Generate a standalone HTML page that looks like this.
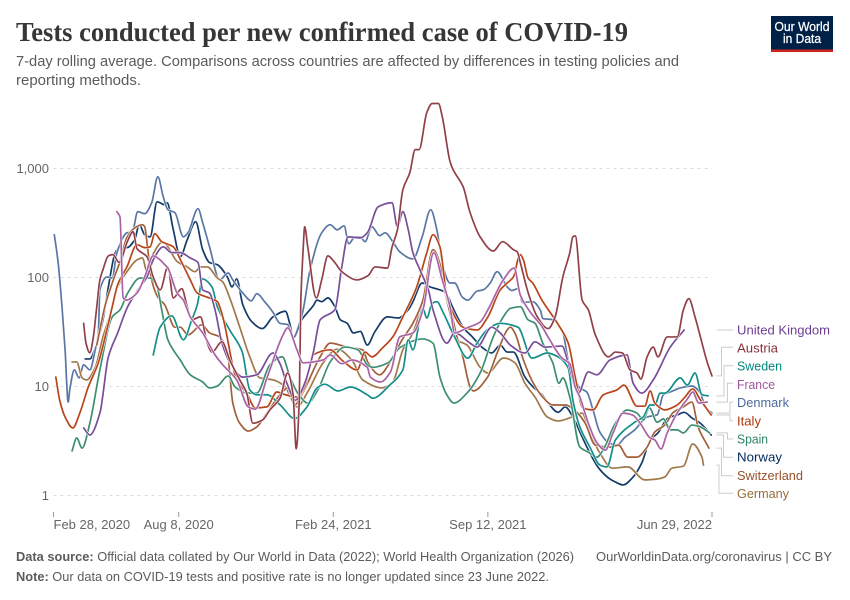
<!DOCTYPE html>
<html lang="en">
<head>
<meta charset="utf-8">
<title>Tests conducted per new confirmed case of COVID-19</title>
<style>
html,body{margin:0;padding:0;background:#fff;}
svg{display:block;font-family:"Liberation Sans",sans-serif;}
</style>
</head>
<body>
<svg id="chart" xmlns="http://www.w3.org/2000/svg" width="850" height="600" viewBox="0 0 850 600">
<rect width="850" height="600" fill="#fff"/>
<text x="16" y="41" font-family="'Liberation Serif',serif" font-weight="700" font-size="27" fill="#363636" textLength="612" lengthAdjust="spacingAndGlyphs">Tests conducted per new confirmed case of COVID-19</text>
<text x="16" y="66" font-size="14.5" fill="#5b5b5b" textLength="663" lengthAdjust="spacingAndGlyphs">7-day rolling average. Comparisons across countries are affected by differences in testing policies and</text>
<text x="16" y="85" font-size="14.5" fill="#5b5b5b" textLength="125" lengthAdjust="spacingAndGlyphs">reporting methods.</text>
<g>
<rect x="771" y="16" width="62" height="36" fill="#002147"/>
<rect x="771" y="49.5" width="62" height="2.5" fill="#ce261e"/>
<text x="802" y="31" text-anchor="middle" font-size="12.5" font-weight="400" fill="#fff" stroke="#fff" stroke-width="0.25" textLength="55" lengthAdjust="spacingAndGlyphs">Our World</text>
<text x="802" y="43" text-anchor="middle" font-size="12.5" font-weight="400" fill="#fff" stroke="#fff" stroke-width="0.25" textLength="38" lengthAdjust="spacingAndGlyphs">in Data</text>
</g>
<g id="grid"></g>
<g id="y-axis"></g>
<g id="x-axis"></g>
<g id="lines"></g>
<g id="connectors"></g>
<g font-size="13">
<text x="737" y="334.5" fill="#6d3e91" textLength="93" lengthAdjust="spacingAndGlyphs">United Kingdom</text>
<text x="737" y="352.5" fill="#883039" textLength="41" lengthAdjust="spacingAndGlyphs">Austria</text>
<text x="737" y="370.5" fill="#00847e" textLength="45" lengthAdjust="spacingAndGlyphs">Sweden</text>
<text x="737" y="389" fill="#a2559c" textLength="38" lengthAdjust="spacingAndGlyphs">France</text>
<text x="737" y="407" fill="#4c6a9c" textLength="52" lengthAdjust="spacingAndGlyphs">Denmark</text>
<text x="737" y="425.5" fill="#b13507" textLength="24" lengthAdjust="spacingAndGlyphs">Italy</text>
<text x="737" y="443.5" fill="#2c8465" textLength="31" lengthAdjust="spacingAndGlyphs">Spain</text>
<text x="737" y="461.5" fill="#00295b" textLength="45" lengthAdjust="spacingAndGlyphs">Norway</text>
<text x="737" y="480" fill="#9a5129" textLength="66" lengthAdjust="spacingAndGlyphs">Switzerland</text>
<text x="737" y="498" fill="#996d39" textLength="52" lengthAdjust="spacingAndGlyphs">Germany</text>
</g>
<text x="16" y="561" font-size="13" fill="#5b5b5b" textLength="558" lengthAdjust="spacingAndGlyphs"><tspan font-weight="700">Data source:</tspan> Official data collated by Our World in Data (2022); World Health Organization (2026)</text>
<text x="596" y="561" font-size="13" fill="#5b5b5b" textLength="236" lengthAdjust="spacingAndGlyphs">OurWorldinData.org/coronavirus | CC BY</text>
<text x="16" y="581" font-size="13" fill="#5b5b5b" textLength="533" lengthAdjust="spacingAndGlyphs"><tspan font-weight="700">Note:</tspan> Our data on COVID-19 tests and positive rate is no longer updated since 23 June 2022.</text>
</svg>
<script>
// Days are counted from Feb 28, 2020. Values are tests per new confirmed case.
const xTickDays = [0, 162, 362, 562, 852];
const xTickLabels = ["Feb 28, 2020", "Aug 8, 2020", "Feb 24, 2021", "Sep 12, 2021", "Jun 29, 2022"];
const yTickValues = [1, 10, 100, 1000];
const yTickLabels = ["1", "10", "100", "1,000"];

const denmarkDays = [1,2,6,11,15,19,21,27,33,39,47,54,58,60,69,76,82,95,102,109,118,127,135,142,148,157,168,174,187,193,202,215,226,232,245,256,263,274,284,293,303,310,322,332,347,358,367,376,382,390,397,403,412,422,429,439,448,465,477,488,496,504,513,519,529,536,548,556,565,574,587,593,601,607,620,630,633,646,659,666,675,681,690,698,707,720,729,739,752,768,781,789,798,811,826,837,843,852];
const denmarkValues = [247,222,137,54,21.7,7.2,9.3,14.2,12,15.8,14.2,21.7,31,77,101,99,169,257,263,402,385,485,840,550,419,394,236,257,428,318,190,95,110,95,72,61,71,59,48,38,37,28,47,118,257,305,274,298,204,236,236,213,292,242,257,213,172,148,236,419,274,125,89,89,66,62,75,77,89,113,82,76,79,59,60,50,42,41,31,17.5,11.5,9.7,8.9,6.1,3.8,3,2.9,3.4,4,5.25,5.5,8.4,8.9,9.7,10.1,8.7,6.5,5.7];

const norwayDays = [41,47,56,64,71,80,86,95,105,111,118,125,134,144,147,155,164,173,184,193,202,212,225,231,237,245,257,270,284,300,306,310,319,336,341,347,355,364,371,380,388,397,406,416,432,446,459,465,477,487,500,508,516,530,542,555,567,578,587,595,610,620,632,640,653,662,672,684,694,705,718,727,737,750,761,772,782,795,807,816,826,837,851];
const norwayValues = [17.9,17.9,25,41,82,169,188,188,222,305,247,236,495,465,485,274,155,222,325,180,137,131,101,82,97,56,39,34,43.5,49,37,28,39,55,62,60,65,54,41,38,31,32,24,32,43.5,42.5,50.5,60,89,82,77,72,54,35,28.5,22.7,20.3,24,20.7,20.7,12.2,10,8.4,7.05,5.8,6.5,5.25,3.45,2.45,1.8,1.45,1.33,1.25,1.48,1.98,3.23,3.75,5.13,5.48,5.8,5.15,4.6,3.59];

const austriaDays = [39,42,47,51,56,60,64,71,77,85,95,103,108,121,129,138,148,155,166,173,179,190,199,205,218,228,241,250,258,270,280,293,303,310,314,318,320,323,325,329,340,347,355,364,373,393,407,416,432,438,445,452,461,468,473,483,490,498,503,513,517,530,539,552,569,581,595,600,604,614,626,640,649,659,668,672,675,684,692,701,718,727,736,746,755,760,768,776,782,794,807,815,822,830,837,846,852];
const austriaValues = [38,25,20.4,26.8,54,95,118,158,162,137,209,263,184,155,101,77,125,65,79,54,41,43.5,25,20.7,25.7,17.5,11.5,8.7,4.6,4.9,6.1,7.8,13.3,8.4,2.68,7.5,62,180,292,190,65,95,158,137,113,95,104,125,122,190,274,639,915,1490,1490,3260,3950,3950,2990,1160,976,680,394,236,175,213,180,172,137,73,43.5,34,43.5,101,169,236,241,62,50.5,29.8,18.7,20.7,20.3,14.2,13.3,11.7,18.7,23,18.7,28.5,28.5,50.5,64,43.5,28.5,16.5,12.5];

const ukDays = [39,47,60,71,83,96,112,121,129,142,153,164,177,187,193,202,209,218,228,245,263,284,293,302,313,325,336,345,364,373,381,397,406,420,438,445,452,459,465,474,485,491,509,519,539,548,567,578,591,610,623,636,658,665,679,692,703,720,742,750,761,776,798,816];
const ukValues = [4.17,3.59,5.7,18.7,31,54,82,101,145,191,169,169,151,137,77,72,50.5,25,16.8,12.2,12.8,20.3,16.2,10.7,7.5,10.7,20.3,40.9,50.5,125,236,231,257,445,485,292,402,274,169,118,77,50.5,25,31,25,23,35,31,24,20.3,25.7,23,23.5,17.5,8.7,13.6,12.8,17.5,19.5,10.7,8.7,11.5,23,33];

const swedenDays = [129,138,153,168,179,186,193,205,212,228,244,254,263,276,293,312,328,341,351,368,384,406,413,435,452,459,465,478,483,490,496,504,519,536,548,561,578,601,619,639,653,666,672,681,694,707,716,727,752,763,772,778,785,791,811,820,830,839,847];
const swedenValues = [19.5,35,44.5,26.8,41,56,97,82,54,33,21,9.3,8.4,8.4,6.8,5.1,6.5,9.7,10.5,9.1,9.9,8.4,7.8,10.3,14.2,26.8,21.7,52,42.5,58,60,48,28.5,18.2,25,33,38,35,18.2,20.3,18.7,14.8,7.5,4.26,2.78,1.9,1.83,3.23,4.7,5.25,6.77,6.77,8.7,8.7,12,10.3,13.3,8.4,8.2];

const franceDays = [82,86,90,94,108,118,129,138,144,148,160,168,177,193,209,219,237,252,261,276,297,303,315,323,349,358,373,386,406,410,423,436,448,465,478,492,503,513,519,535,552,562,582,596,604,617,632,642,658,668,675,681,692,703,714,724,737,749,759,772,778,786,794,807,821,827,835,846];
const franceValues = [402,360,66,62,72,101,158,145,131,122,72,62,43.5,31,19.5,15.8,11.5,6.5,6.2,11.9,29.8,34.5,21.7,16.5,17.5,19.5,16.2,17.5,15,12.2,11,13.6,28.5,31,50.5,169,95,54,31,34.5,39,50.5,95,122,69,48,35.5,26.8,18.2,16.2,9.9,8,4.6,3.05,2.61,3.75,5.7,5.48,4.6,3.37,3.23,2.67,3.75,5.7,7.85,8.9,7.05,7.2];

const italyDays = [3,8,15,25,34,45,58,69,76,83,95,108,118,125,131,140,155,166,177,186,199,212,219,237,250,261,276,289,300,315,325,336,358,373,393,403,412,426,439,452,464,470,483,491,500,509,513,530,548,562,578,587,595,602,604,608,614,620,632,652,666,675,685,698,711,729,738,755,765,772,778,791,807,817,827,837,851];
const italyValues = [12.2,7.5,5.25,4.17,5.7,9.9,16.5,33,54,85.8,125,200,188,191,252,213,191,137,95,72,66,60,43.5,11.5,8.7,6.36,6.5,8.9,8.4,8,9.9,19.5,21.7,17.5,14.2,20.7,18.7,22.7,28.5,43.5,65,82,169,247,191,66,54,35,33,43.5,77,89,101,155,162,145,99,89,62,38,25,12.2,6.36,6.1,8.36,9.3,10.3,6.6,6.6,9.1,7.05,6.1,6.77,8,9.5,7.52,5.48];

const spainDays = [24,30,37,47,60,76,86,96,112,125,134,140,148,164,177,193,202,212,226,235,250,263,280,296,306,316,329,342,358,377,394,406,413,433,448,478,491,500,509,518,535,552,569,582,591,604,614,623,633,646,654,659,668,681,692,703,711,727,742,755,763,771,781,789,798,807,815,826,837,849];
const spainValues = [2.56,3.37,2.72,4.6,14.2,43.5,50.5,72,99,99,82,50.5,26.8,17.5,12.8,11,9.7,10.1,12.5,9.9,8.7,8.7,15.8,18.7,12.2,8.7,7.05,9.3,16.8,23,21.7,15.8,15,16.5,22.7,27.3,25,12.2,8.36,7.05,8.7,13.3,28.5,43.5,52,54,40.9,38,25,16.5,10.7,12,8,2.78,2.5,2.25,2.61,4.6,6.09,5.7,4.93,6.36,4.7,5.05,4,4,3.75,4.43,4.26,3.75];

const switzerlandDays = [56,67,76,86,95,105,115,118,122,127,135,144,157,164,174,192,202,215,225,232,241,252,263,276,293,303,312,323,345,358,380,400,407,422,435,451,465,478,491,513,522,530,539,543,561,574,587,591,597,608,620,633,646,662,677,688,701,720,731,743,755,768,778,791,802,815,826,834,848];
const switzerlandValues = [24,56,89,140,232,285,305,292,180,95,66,56,35,35,29.8,36.8,31,28.5,20.3,7.05,4.6,3.9,4.26,5.7,8.36,9.7,6.77,8.9,18.7,25,23,21.7,16.5,12.8,16.5,26.8,38,62,180,54,28.5,18.2,9.9,9.1,12,20.3,33,35,31,17.5,11,8,6.77,6.77,5.8,4.6,2.9,2.78,2.9,2.25,2.25,2.78,3.83,4.43,5.8,6.5,7.2,4.26,2.72];

const germanyDays = [24,30,37,43,54,64,76,83,95,108,115,121,127,142,148,160,173,183,190,199,212,219,228,241,254,267,284,300,310,315,328,349,367,386,400,425,439,452,465,477,491,511,522,535,552,562,582,584,597,610,623,639,653,671,684,694,707,723,743,765,782,791,800,815,827,839,841];
const germanyValues = [16.8,16.8,12,11.5,15,28.5,52,82,113,145,151,113,155,213,191,140,125,113,125,125,99,91,65,35,18.7,12,11.5,9.9,7.05,6.5,8.7,16.5,22,17.5,11.5,9.7,11,21.7,31,58,169,54,26.8,24,15,13.3,18.2,18.2,16.5,10.7,8,5.25,4.83,5.25,5.7,3.75,2.45,1.78,1.83,1.39,1.42,1.48,1.78,1.86,2.97,2.25,1.9];

const NS = "http://www.w3.org/2000/svg";
const xScale = d => 53.5 + (d - xTickDays[0]) * (712 - 53.5) / (xTickDays[4] - xTickDays[0]);
const yScale = v => 495.5 - 109 * Math.log10(v);

function make(tag, attrs, parent) {
  const el = document.createElementNS(NS, tag);
  for (const k in attrs) el.setAttribute(k, attrs[k]);
  parent.appendChild(el);
  return el;
}

function monotonePath(pts) {
  const n = pts.length, dx = [], m = [], t = [];
  for (let i = 0; i < n - 1; i++) {
    dx[i] = pts[i + 1][0] - pts[i][0];
    m[i] = (pts[i + 1][1] - pts[i][1]) / dx[i];
  }
  t[0] = m[0];
  t[n - 1] = m[n - 2];
  for (let i = 1; i < n - 1; i++) {
    t[i] = m[i - 1] * m[i] <= 0 ? 0 : 2 * m[i - 1] * m[i] / (m[i - 1] + m[i]);
  }
  let d = "M" + pts[0][0].toFixed(2) + " " + pts[0][1].toFixed(2);
  for (let i = 0; i < n - 1; i++) {
    const h = dx[i] / 3;
    d += "C" + (pts[i][0] + h).toFixed(2) + " " + (pts[i][1] + t[i] * h).toFixed(2) + " " +
      (pts[i + 1][0] - h).toFixed(2) + " " + (pts[i + 1][1] - t[i + 1] * h).toFixed(2) + " " +
      pts[i + 1][0].toFixed(2) + " " + pts[i + 1][1].toFixed(2);
  }
  return d;
}

const gridGroup = document.getElementById("grid");
const yAxisGroup = document.getElementById("y-axis");
const xAxisGroup = document.getElementById("x-axis");
const linesGroup = document.getElementById("lines");
const connectorGroup = document.getElementById("connectors");

yTickValues.forEach((v, i) => {
  const line = make("line", {x1: 53.5, x2: 712, y1: yScale(v), y2: yScale(v), stroke: "#dddddd", "stroke-width": 1, "stroke-dasharray": "3,4", "shape-rendering": "crispEdges"}, gridGroup);
  
  
  const label = make("text", {x: 49, y: yScale(v) + 4.5, "text-anchor": "end", "font-size": 13, fill: "#666666"}, yAxisGroup);
  label.textContent = yTickLabels[i];
  
  
});

xTickDays.forEach((d, i) => {
  const tick = make("line", {x1: xScale(d), x2: xScale(d), y1: 512, y2: 517, stroke: "#999999", "stroke-width": 1}, xAxisGroup);
  
  
  const anchor = i === 0 ? "start" : (i === xTickDays.length - 1 ? "end" : "middle");
  const label = make("text", {x: xScale(d), y: 529, "text-anchor": anchor, "font-size": 13, fill: "#666666"}, xAxisGroup);
  label.textContent = xTickLabels[i];
  
  
});

const seriesList = [
  {slug: "norway", color: "#00295b", days: norwayDays, values: norwayValues, elbow: 723.5, labelY: 457.3},
  {slug: "denmark", color: "#4c6a9c", days: denmarkDays, values: denmarkValues, elbow: 730, labelY: 402.3},
  {slug: "germany", color: "#996d39", days: germanyDays, values: germanyValues, elbow: 719, labelY: 493.3},
  {slug: "switzerland", color: "#9a5129", days: switzerlandDays, values: switzerlandValues, elbow: 721.5, labelY: 475.7},
  {slug: "spain", color: "#2c8465", days: spainDays, values: spainValues, elbow: 727.5, labelY: 439},
  {slug: "sweden", color: "#00847e", days: swedenDays, values: swedenValues, elbow: 724, labelY: 365.7},
  {slug: "italy", color: "#b13507", days: italyDays, values: italyValues, elbow: 730, labelY: 420.7},
  {slug: "united-kingdom", color: "#6d3e91", days: ukDays, values: ukValues, elbow: null, labelY: 330},
  {slug: "austria", color: "#883039", days: austriaDays, values: austriaValues, elbow: 721.5, labelY: 347.3},
  {slug: "france", color: "#a2559c", days: franceDays, values: franceValues, elbow: 727.5, labelY: 383.3}
];

seriesList.forEach(s => {
  const pts = s.days.map((d, i) => [xScale(d), yScale(s.values[i])]);
  const d = monotonePath(pts);
  const halo = make("path", {d: d, fill: "none", stroke: "#ffffff", "stroke-width": 2.8, "stroke-linejoin": "round", "stroke-linecap": "round"}, linesGroup);
  
  
  const path = make("path", {d: d, fill: "none", stroke: s.color, "stroke-width": 1.7, "stroke-opacity": 0.92, "stroke-linejoin": "round", "stroke-linecap": "round"}, linesGroup);
  
  

  const endY = s.elbow === null ? s.labelY : pts[pts.length - 1][1];
  const points = s.elbow === null
    ? "717,330 733,330"
    : "716.5," + endY.toFixed(1) + " " + s.elbow + "," + endY.toFixed(1) + " " + s.elbow + "," + s.labelY + " 733," + s.labelY;
  const connector = make("polyline", {points: points, fill: "none", stroke: "#cccccc", "stroke-width": 1}, connectorGroup);
  
  
});
</script>
</body>
</html>
